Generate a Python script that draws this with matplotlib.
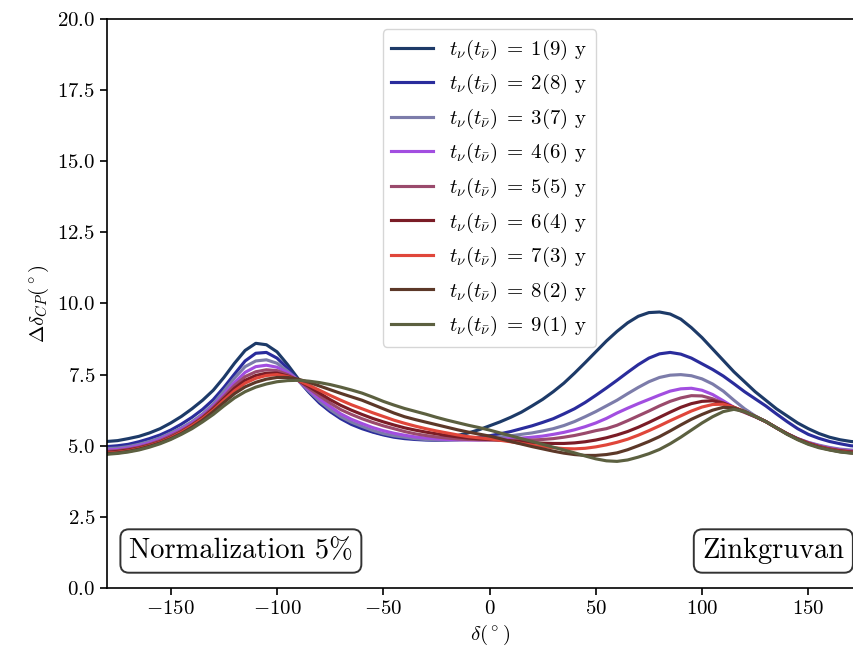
import matplotlib
matplotlib.use("Agg")
import matplotlib.pyplot as plt
import numpy as np

plt.rcParams["font.family"] = "serif"
plt.rcParams["font.serif"] = ["cmr10"]
plt.rcParams["mathtext.fontset"] = "cm"
plt.rcParams["axes.formatter.use_mathtext"] = True

# delta_CP grid (degrees), every 5
delta = np.arange(-180, 181, 5)

# resolution on delta_CP for each run split t_nu(t_nubar)
res_1_9 = [5.15, 5.18, 5.25, 5.33, 5.45, 5.6, 5.8, 6.03, 6.3, 6.6, 6.95, 7.4, 7.9,
           8.35, 8.6, 8.55, 8.3, 7.85, 7.35, 6.9, 6.52, 6.22, 6.0, 5.8, 5.65, 5.5,
           5.4, 5.34, 5.3, 5.27, 5.25, 5.26, 5.3, 5.36, 5.45, 5.56, 5.7, 5.84, 6.0,
           6.18, 6.4, 6.63, 6.9, 7.2, 7.55, 7.92, 8.3, 8.68, 9.02, 9.32, 9.55, 9.68,
           9.7, 9.63, 9.45, 9.15, 8.8, 8.4, 8.0, 7.6, 7.25, 6.9, 6.6, 6.3, 6.05,
           5.8, 5.6, 5.43, 5.3, 5.21, 5.15, 5.12, 5.1]
res_2_8 = [4.97, 5.0, 5.05, 5.14, 5.25, 5.38, 5.55, 5.76, 6.0, 6.28, 6.62, 7.05, 7.52,
           7.98, 8.25, 8.28, 8.08, 7.72, 7.3, 6.88, 6.5, 6.2, 5.95, 5.75, 5.6, 5.48,
           5.38, 5.3, 5.25, 5.22, 5.2, 5.19, 5.2, 5.22, 5.25, 5.3, 5.35, 5.42, 5.5,
           5.6, 5.7, 5.82, 5.95, 6.12, 6.3, 6.52, 6.77, 7.03, 7.3, 7.58, 7.85, 8.08,
           8.23, 8.28, 8.22, 8.08, 7.88, 7.68, 7.45, 7.18, 6.9, 6.65, 6.4, 6.12, 5.85,
           5.6, 5.4, 5.26, 5.15, 5.07, 5.0, 4.97, 4.95]
res_3_7 = [4.9, 4.92, 4.97, 5.05, 5.15, 5.28, 5.45, 5.63, 5.85, 6.12, 6.47, 6.92, 7.38,
           7.78, 7.98, 8.02, 7.9, 7.62, 7.3, 6.92, 6.57, 6.27, 6.02, 5.83, 5.68, 5.54,
           5.43, 5.35, 5.3, 5.25, 5.22, 5.2, 5.2, 5.2, 5.22, 5.25, 5.28, 5.31, 5.35,
           5.4, 5.45, 5.52, 5.6, 5.71, 5.85, 6.02, 6.2, 6.4, 6.6, 6.83, 7.05, 7.25,
           7.4, 7.48, 7.5, 7.46, 7.35, 7.17, 6.92, 6.6, 6.3, 6.05, 5.85, 5.63, 5.43,
           5.25, 5.12, 5.02, 4.94, 4.88, 4.85, 4.83, 4.82]
res_4_6 = [4.85, 4.87, 4.92, 5.0, 5.1, 5.23, 5.4, 5.58, 5.8, 6.07, 6.4, 6.8, 7.22,
           7.58, 7.78, 7.83, 7.76, 7.57, 7.3, 6.97, 6.65, 6.38, 6.12, 5.93, 5.78, 5.64,
           5.53, 5.44, 5.37, 5.31, 5.27, 5.24, 5.22, 5.21, 5.2, 5.2, 5.21, 5.23, 5.25,
           5.27, 5.3, 5.34, 5.4, 5.47, 5.56, 5.67, 5.8, 5.96, 6.15, 6.32, 6.48, 6.63,
           6.78, 6.92, 7.0, 7.02, 6.95, 6.8, 6.58, 6.35, 6.18, 6.02, 5.85, 5.63, 5.42,
           5.25, 5.11, 5.0, 4.92, 4.86, 4.82, 4.81, 4.8]
res_5_5 = [4.8, 4.83, 4.88, 4.95, 5.05, 5.18, 5.35, 5.53, 5.75, 6.02, 6.35, 6.73, 7.12,
           7.43, 7.6, 7.67, 7.64, 7.5, 7.3, 7.02, 6.75, 6.5, 6.27, 6.1, 5.95, 5.82,
           5.7, 5.6, 5.5, 5.42, 5.36, 5.31, 5.27, 5.24, 5.22, 5.21, 5.2, 5.2, 5.19,
           5.19, 5.2, 5.22, 5.25, 5.3, 5.36, 5.44, 5.53, 5.6, 5.72, 5.88, 6.05, 6.22,
           6.4, 6.56, 6.68, 6.76, 6.75, 6.65, 6.5, 6.32, 6.17, 6.02, 5.85, 5.63, 5.42,
           5.24, 5.1, 4.98, 4.9, 4.84, 4.8, 4.79, 4.78]
res_6_4 = [4.77, 4.8, 4.85, 4.92, 5.02, 5.14, 5.3, 5.49, 5.72, 5.98, 6.3, 6.66, 7.02,
           7.3, 7.47, 7.55, 7.55, 7.45, 7.3, 7.08, 6.85, 6.62, 6.42, 6.25, 6.1, 5.96,
           5.84, 5.73, 5.63, 5.55, 5.48, 5.42, 5.36, 5.31, 5.27, 5.24, 5.22, 5.2, 5.17,
           5.14, 5.11, 5.09, 5.08, 5.08, 5.1, 5.14, 5.2, 5.28, 5.38, 5.5, 5.65, 5.82,
           6.0, 6.18, 6.35, 6.48, 6.56, 6.58, 6.5, 6.35, 6.2, 6.03, 5.85, 5.63, 5.42,
           5.24, 5.09, 4.97, 4.88, 4.82, 4.78, 4.77, 4.76]
res_7_3 = [4.74, 4.77, 4.82, 4.9, 5.0, 5.12, 5.28, 5.47, 5.7, 5.95, 6.25, 6.6, 6.93,
           7.2, 7.37, 7.47, 7.5, 7.43, 7.3, 7.13, 6.95, 6.77, 6.6, 6.44, 6.3, 6.16,
           6.03, 5.9, 5.79, 5.69, 5.6, 5.52, 5.45, 5.38, 5.32, 5.28, 5.24, 5.19, 5.14,
           5.08, 5.02, 4.97, 4.93, 4.9, 4.89, 4.91, 4.96, 5.03, 5.12, 5.23, 5.37, 5.53,
           5.7, 5.88, 6.05, 6.22, 6.36, 6.45, 6.46, 6.35, 6.2, 6.03, 5.85, 5.63, 5.42,
           5.23, 5.08, 4.96, 4.87, 4.8, 4.76, 4.74, 4.73]
res_8_2 = [4.72, 4.75, 4.8, 4.88, 4.98, 5.1, 5.25, 5.43, 5.65, 5.9, 6.2, 6.52, 6.83,
           7.07, 7.23, 7.34, 7.4, 7.4, 7.34, 7.23, 7.1, 6.97, 6.84, 6.72, 6.6, 6.45,
           6.3, 6.15, 6.02, 5.92, 5.83, 5.74, 5.65, 5.56, 5.48, 5.41, 5.34, 5.25, 5.15,
           5.06, 4.97, 4.89, 4.81, 4.74, 4.69, 4.66, 4.66, 4.69, 4.75, 4.86, 5.0, 5.15,
           5.32, 5.52, 5.73, 5.93, 6.1, 6.25, 6.35, 6.33, 6.2, 6.03, 5.85, 5.63, 5.42,
           5.23, 5.07, 4.95, 4.86, 4.79, 4.75, 4.73, 4.72]
res_9_1 = [4.7, 4.73, 4.78, 4.85, 4.95, 5.07, 5.22, 5.4, 5.6, 5.84, 6.1, 6.4, 6.68,
           6.9, 7.06, 7.17, 7.25, 7.29, 7.3, 7.27, 7.22, 7.15, 7.06, 6.96, 6.85, 6.71,
           6.56, 6.43, 6.31, 6.21, 6.11, 6.0, 5.9, 5.81, 5.72, 5.64, 5.55, 5.45, 5.35,
           5.25, 5.15, 5.05, 4.95, 4.85, 4.75, 4.64, 4.54, 4.47, 4.45, 4.5, 4.6, 4.72,
           4.87, 5.07, 5.3, 5.55, 5.8, 6.02, 6.2, 6.28, 6.2, 6.03, 5.85, 5.63, 5.4,
           5.21, 5.05, 4.93, 4.85, 4.78, 4.74, 4.71, 4.7]

curves = [res_1_9, res_2_8, res_3_7, res_4_6, res_5_5, res_6_4, res_7_3, res_8_2, res_9_1]
t_nu = [1, 2, 3, 4, 5, 6, 7, 8, 9]
colors = ["#1d3a68", "#2a2c9c", "#7c7caa", "#a24ee0", "#9a4a6c",
          "#7a1c26", "#e0463a", "#5c3828", "#5c6040"]

fig = plt.figure(figsize=(8.54, 6.5), dpi=100)
# axes runs past the right edge of the picture, as in the reference crop
ax = fig.add_axes([0.1253, 0.0954, 0.8958, 0.8754])

for y, t, c in zip(curves, t_nu, colors):
    ax.plot(delta, y, color=c, lw=2.25,
            label=r"$t_\nu(t_{\bar{\nu}})\;=\;%d(%d)$ y" % (t, 10 - t))

ax.set_xlim(-180, 180)
ax.set_ylim(0, 20)
ax.set_xticks([-150, -100, -50, 0, 50, 100, 150])
ax.set_yticks(np.arange(0, 20.1, 2.5))
ax.tick_params(labelsize=15, length=5, width=1.2)
for s in ax.spines.values():
    s.set_linewidth(1.2)

ax.set_xlabel(r"$\delta(^\circ)$", fontsize=15)
ax.set_ylabel(r"$\Delta\delta_{CP}(^\circ)$", fontsize=15)

ax.legend(loc="upper center", fontsize=15)

box = dict(boxstyle="round", facecolor="white", edgecolor="0.2", linewidth=1.4)
ax.text(0.175, 0.065, "Normalization 5%", transform=ax.transAxes,
        ha="center", va="center", fontsize=20.5, bbox=box)
ax.text(0.871, 0.065, "Zinkgruvan", transform=ax.transAxes,
        ha="center", va="center", fontsize=20.5, bbox=box)

fig.savefig("out.png", dpi=100)
